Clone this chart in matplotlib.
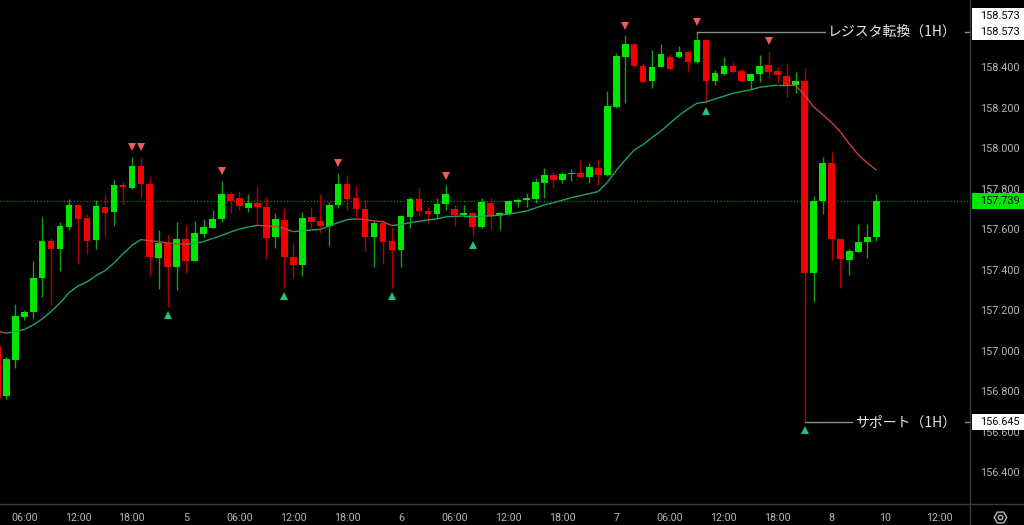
import numpy as np
import matplotlib
matplotlib.use('Agg')
import matplotlib.pyplot as plt
from matplotlib.collections import LineCollection
from matplotlib.lines import Line2D
from matplotlib.patches import Rectangle
from matplotlib.ticker import FormatStrFormatter
from matplotlib.transforms import offset_copy, blended_transform_factory

plt.rcParams['font.family'] = ['Roboto', 'DejaVu Sans']

# hourly bars, index 0 = day 4 04:00
bars = np.arange(-1, 98)

opens = [157.024, 156.777, 156.953, 157.167, 157.189, 157.360, 157.542, 157.503, 157.611, 157.717,
         157.656, 157.546, 157.709, 157.684, 157.819, 157.804, 157.911, 157.822, 157.455, 157.529,
         157.414, 157.549, 157.440, 157.575, 157.606, 157.649, 157.771, 157.751, 157.705, 157.730,
         157.711, 157.562, 157.644, 157.460, 157.421, 157.658, 157.640, 157.615, 157.719, 157.822,
         157.753, 157.700, 157.559, 157.631, 157.539, 157.498, 157.661, 157.747, 157.689, 157.676,
         157.723, 157.697, 157.671, 157.677, 157.611, 157.728, 157.671, 157.674, 157.735, 157.742,
         157.750, 157.829, 157.867, 157.842, 157.872, 157.875, 157.857, 157.900, 157.867, 158.204,
         158.449, 158.512, 158.405, 158.331, 158.401, 158.449, 158.449, 158.473, 158.425, 158.533,
         158.331, 158.367, 158.403, 158.380, 158.331, 158.364, 158.410, 158.380, 158.357, 158.311,
         158.331, 157.384, 157.740, 157.928, 157.549, 157.447, 157.488, 157.536, 157.559]
closes = [156.765, 156.957, 157.169, 157.192, 157.360, 157.541, 157.500, 157.613, 157.717, 157.649,
          157.542, 157.714, 157.681, 157.817, 157.806, 157.913, 157.824, 157.463, 157.532, 157.414,
          157.549, 157.440, 157.579, 157.611, 157.651, 157.771, 157.740, 157.715, 157.728, 157.709,
          157.557, 157.648, 157.460, 157.422, 157.653, 157.636, 157.615, 157.719, 157.822, 157.750,
          157.700, 157.559, 157.628, 157.536, 157.498, 157.663, 157.748, 157.687, 157.672, 157.725,
          157.771, 157.667, 157.679, 157.611, 157.732, 157.667, 157.677, 157.738, 157.743, 157.753,
          157.832, 157.867, 157.842, 157.872, 157.875, 157.857, 157.906, 157.867, 158.207, 158.454,
          158.512, 158.405, 158.327, 158.401, 158.462, 158.392, 158.473, 158.423, 158.533, 158.331,
          158.369, 158.405, 158.377, 158.331, 158.365, 158.405, 158.377, 158.359, 158.311, 158.331,
          157.384, 157.740, 157.928, 157.549, 157.450, 157.491, 157.536, 157.562, 157.739]
highs = [157.040, 156.970, 157.228, 157.200, 157.442, 157.661, 157.554, 157.636, 157.747, 157.719,
         157.672, 157.743, 157.773, 157.842, 157.834, 157.957, 157.957, 157.857, 157.595, 157.570,
         157.636, 157.620, 157.640, 157.648, 157.694, 157.839, 157.784, 157.788, 157.771, 157.812,
         157.760, 157.681, 157.705, 157.532, 157.686, 157.707, 157.771, 157.735, 157.878, 157.867,
         157.812, 157.743, 157.641, 157.644, 157.608, 157.669, 157.760, 157.804, 157.711, 157.755,
         157.817, 157.719, 157.719, 157.686, 157.751, 157.751, 157.686, 157.743, 157.755, 157.776,
         157.850, 157.900, 157.884, 157.884, 157.895, 157.941, 157.928, 157.946, 158.283, 158.468,
         158.558, 158.520, 158.420, 158.484, 158.512, 158.465, 158.504, 158.484, 158.573, 158.533,
         158.385, 158.448, 158.426, 158.392, 158.369, 158.459, 158.481, 158.401, 158.421, 158.375,
         158.393, 157.763, 157.957, 157.982, 157.549, 157.501, 157.625, 157.625, 157.771]
lows = [156.740, 156.759, 156.912, 157.151, 157.162, 157.263, 157.225, 157.394, 157.595, 157.427,
        157.477, 157.501, 157.559, 157.615, 157.719, 157.798, 157.751, 157.373, 157.302, 157.216,
        157.299, 157.381, 157.440, 157.562, 157.603, 157.636, 157.677, 157.694, 157.686, 157.620,
        157.450, 157.508, 157.310, 157.360, 157.368, 157.598, 157.582, 157.516, 157.702, 157.694,
        157.661, 157.493, 157.414, 157.427, 157.307, 157.414, 157.606, 157.664, 157.625, 157.653,
        157.694, 157.615, 157.661, 157.559, 157.606, 157.598, 157.595, 157.671, 157.711, 157.707,
        157.727, 157.751, 157.801, 157.826, 157.837, 157.855, 157.826, 157.817, 157.860, 158.200,
        158.221, 158.400, 158.320, 158.298, 158.399, 158.385, 158.443, 158.380, 158.421, 158.221,
        158.311, 158.360, 158.372, 158.325, 158.290, 158.327, 158.347, 158.322, 158.250, 158.270,
        156.645, 157.241, 157.672, 157.447, 157.307, 157.373, 157.488, 157.455, 157.542]
ma = [157.096, 157.086, 157.093, 157.104, 157.126, 157.156, 157.193, 157.235, 157.286, 157.319,
      157.339, 157.370, 157.394, 157.432, 157.477, 157.519, 157.548, 157.542, 157.538, 157.531,
      157.526, 157.525, 157.529, 157.538, 157.553, 157.568, 157.585, 157.600, 157.610, 157.618,
      157.615, 157.612, 157.603, 157.587, 157.591, 157.595, 157.598, 157.615, 157.632, 157.646,
      157.650, 157.646, 157.641, 157.636, 157.617, 157.622, 157.631, 157.638, 157.645, 157.650,
      157.660, 157.663, 157.664, 157.664, 157.664, 157.665, 157.668, 157.674, 157.681, 157.689,
      157.704, 157.719, 157.730, 157.742, 157.755, 157.765, 157.775, 157.785, 157.830, 157.889,
      157.941, 157.990, 158.017, 158.052, 158.084, 158.123, 158.161, 158.193, 158.221, 158.228,
      158.242, 158.256, 158.270, 158.279, 158.288, 158.300, 158.306, 158.311, 158.311, 158.309,
      158.262, 158.203, 158.166, 158.126, 158.079, 158.020, 157.966, 157.926, 157.891]

# swing markers (bar index)
top_marks = [14, 15, 24, 37, 49, 69, 77, 85]
bottom_marks = [18, 31, 43, 52, 78, 89]

# axis labels
price_ticks = [156.4, 156.6, 156.8, 157.0, 157.2, 157.4, 157.6, 157.8, 158.0, 158.2, 158.4]
tick_bars = [2, 8, 14, 20, 26, 32, 38, 44, 50, 56, 62, 68, 74, 80, 86, 92, 98, 104]
tick_labels = ['06:00', '12:00', '18:00', '5', '06:00', '12:00', '18:00', '6', '06:00', '12:00',
               '18:00', '7', '06:00', '12:00', '18:00', '8', '10', '12:00']

last_price = 157.739
res_bar, res_price, res_label = 77, 158.573, 'レジスタ転換（1H）'
sup_bar, sup_price, sup_label = 89, 156.645, 'サポート（1H）'

o, c, h, l, ma = map(np.array, (opens, closes, highs, lows, ma))

GREEN, RED = '#00e600', '#f00000'
TXT = '#b2b5be'
GRID = '#363a45'
W, H = 1024, 525

fig = plt.figure(figsize=(W / 100, H / 100), dpi=100, facecolor='black')
ax = fig.add_axes([0, 21 / H, 970 / W, 504 / H], facecolor='black')
ymin, ymax = 156.242, 158.731
ax.set_xlim(-0.7, 107.44)
ax.set_ylim(ymin, ymax)

# candles
up = c >= o
ax.vlines(bars, l, h, colors=np.where(up, '#15a015', '#b00000'), linewidth=1, zorder=2)
ax.bar(bars, np.maximum(np.abs(c - o), 0.005), bottom=np.minimum(o, c), width=0.74,
       color=np.where(up, GREEN, RED), linewidth=0, zorder=3)

# moving average, coloured by slope
pts = np.column_stack([bars, ma])
segs = np.stack([pts[:-1], pts[1:]], axis=1)
seg_cols = np.where(np.diff(ma) < 0, '#c8403a', '#1fa463')
ax.add_collection(LineCollection(segs, colors=seg_cols, linewidths=1.0, zorder=4))

# current price line
ax.axhline(last_price, color='#00b000', linestyle=(0, (1, 2)), linewidth=0.8, zorder=1)

# swing markers
tb = np.array(top_marks)
bb = np.array(bottom_marks)
ax.plot(tb, h[tb + 1], 'v', ms=5.5, color='#f25a5a', mew=0, zorder=5,
        transform=offset_copy(ax.transData, fig=fig, y=9.5, units='dots'))
ax.plot(bb, l[bb + 1], '^', ms=5.5, color='#1fc37d', mew=0, zorder=5,
        transform=offset_copy(ax.transData, fig=fig, y=-8, units='dots'))

# price axis ticks
ax.yaxis.tick_right()
ax.set_yticks(price_ticks)
ax.yaxis.set_major_formatter(FormatStrFormatter('%.3f'))
ax.tick_params(axis='y', length=0, pad=7.2, labelcolor=TXT, labelsize=7.8)
ax.set_xticks(tick_bars, tick_labels)
ax.tick_params(axis='x', length=0, pad=6.5, labelcolor=TXT, labelsize=7.7)
for s in ax.spines.values():
    s.set_visible(False)

# horizontal level lines with labels
blend = blended_transform_factory(ax.transAxes, ax.transData)
levels = [(res_bar, res_price, res_label), (sup_bar, sup_price, sup_label)]
texts = []
for b, p, lab in levels:
    t = ax.text(0.986, p, lab, transform=blend, ha='right', va='center', fontsize=10,
                color='#e6e6e6', family=['Noto Sans CJK JP', 'DejaVu Sans'], zorder=6)
    texts.append(t)
fig.canvas.draw()
inv = ax.transData.inverted()
x_right = ax.get_xlim()[1]
for (b, p, lab), t in zip(levels, texts):
    ext = t.get_window_extent()
    xl = inv.transform((ext.x0 - 3, 0))[0]
    xr = inv.transform((ext.x1 + 9, 0))[0]
    ax.plot([b, xl], [p, p], color='#8c8c8c', lw=1, zorder=5)
    ax.plot([xr, x_right], [p, p], color='#8c8c8c', lw=1, zorder=5, clip_on=False)

# price scale boxes
ax_r = fig.add_axes([970 / W, 21 / H, 54 / W, 504 / H])
ax_r.set_xlim(0, 1)
ax_r.set_ylim(ymin, ymax)
ax_r.axis('off')
ax_r.patch.set_visible(False)
hh = 16 * (ymax - ymin) / 504
boxes = [(res_price + hh, res_price, 'white'), (res_price, res_price, 'white'),
         (last_price, last_price, GREEN), (sup_price, sup_price, 'white')]
for yc, val, fc in boxes:
    ax_r.add_patch(Rectangle((0.03, yc - hh / 2), 0.97, hh, facecolor=fc, edgecolor='none', zorder=5))
    ax_r.text(0.185, yc, f'{val:.3f}', ha='left', va='center', fontsize=7.8, color='black', zorder=6)

# frame lines
fig.add_artist(Line2D([0, 1], [21 / H, 21 / H], transform=fig.transFigure, color=GRID, lw=1))
fig.add_artist(Line2D([970 / W, 970 / W], [0, 1], transform=fig.transFigure, color=GRID, lw=1))
# settings icon
fig.add_artist(Line2D([1000 / W], [8 / H], marker='H', ms=9, mfc='none', mec=TXT, mew=1,
                      transform=fig.transFigure))
fig.add_artist(Line2D([1000 / W], [8 / H], marker='o', ms=3.2, mfc='none', mec=TXT, mew=1,
                      transform=fig.transFigure))

fig.savefig('out.png', dpi=100, facecolor='black')
